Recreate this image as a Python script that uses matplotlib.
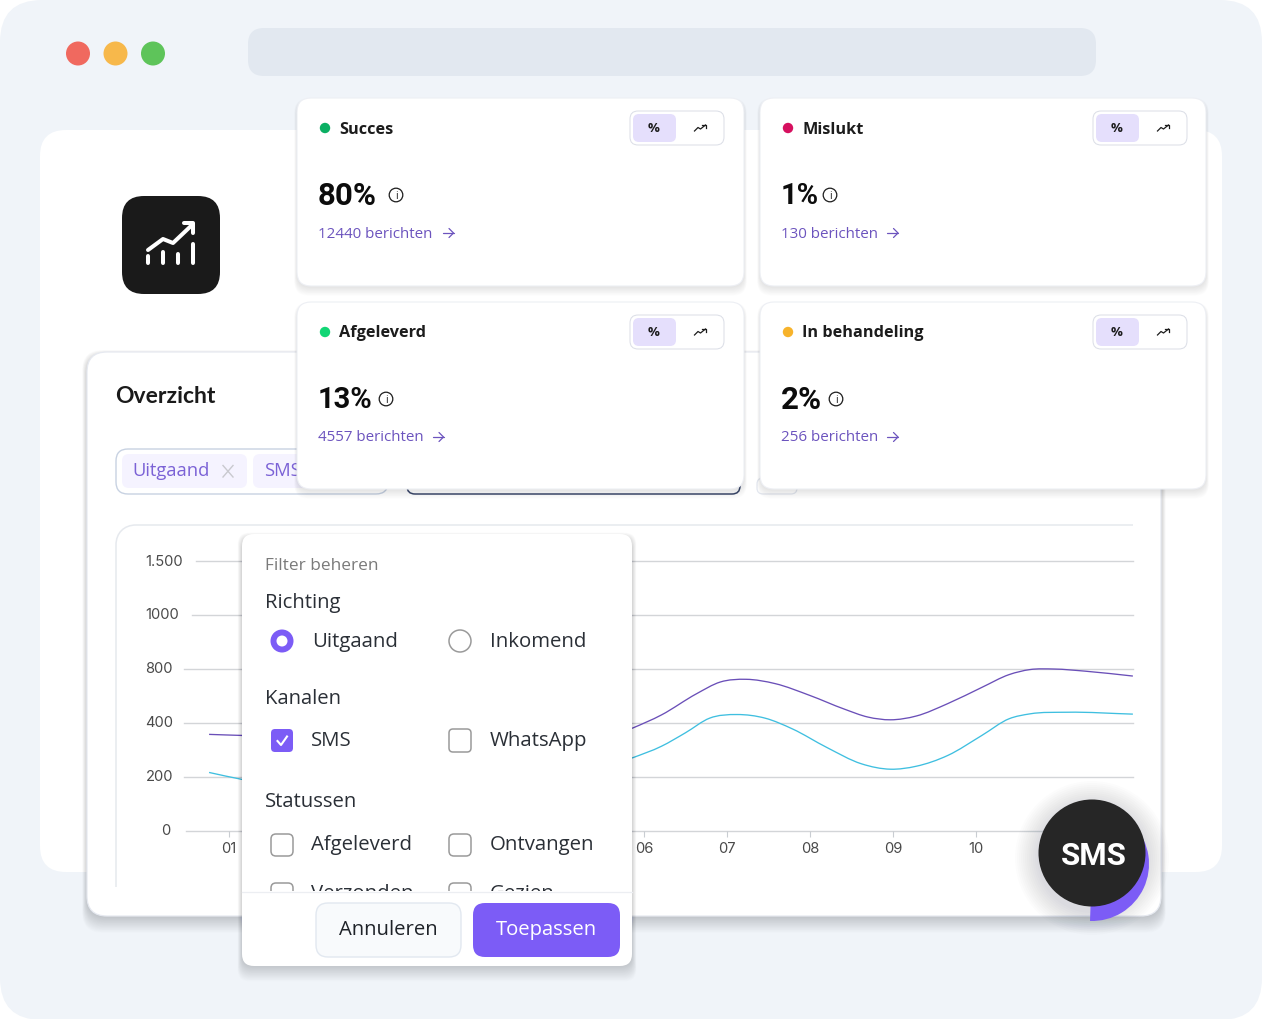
import matplotlib
matplotlib.use('Agg')
import matplotlib.pyplot as plt
import numpy as np
from matplotlib.patches import FancyBboxPatch, Circle, Wedge, PathPatch, Rectangle
from matplotlib.path import Path

W, H = 1262, 1020

# chart data
x_ticks = [1, 2, 3, 4, 5, 6, 7, 8, 9, 10, 11]
# 02-05 sit behind the popup and 11 behind the badge
x_labels = ['01', '', '', '', '', '06', '07', '08', '09', '10', '']
y_ticks = [0, 200, 400, 800, 1000, 1500]
y_labels = ['0', '200', '400', '800', '1000', '1.500']

purple_x = [0.76, 1.16, 5.86, 6.21, 6.63, 6.92, 7.23, 7.58, 8.0, 8.41, 8.70, 8.97, 9.28, 9.66, 10.07, 10.40, 10.65, 10.94, 11.32, 11.89]
purple_y = [356, 352, 379, 456, 612, 700, 720, 688, 600, 500, 440, 420, 448, 540, 660, 755, 792, 796, 780, 744]
cyan_x = [0.76, 1.16, 5.86, 6.21, 6.50, 6.79, 7.12, 7.46, 7.79, 8.2, 8.62, 8.97, 9.28, 9.66, 10.07, 10.40, 10.65, 11.1, 11.89]
cyan_y = [215, 189, 269, 312, 362, 432, 459, 432, 376, 308, 247, 227, 238, 278, 352, 428, 464, 476, 462]

# stat cards
card_titles = ['Succes', 'Mislukt', 'Afgeleverd', 'In behandeling']
card_values = ['80%', '1%', '13%', '2%']
card_links = ['12440 berichten', '130 berichten', '4557 berichten', '256 berichten']
card_dots = ['#0BAF63', '#D6105F', '#12D675', '#F7B32B']

PURPLE = '#7C5CF6'
LINK = '#6C54BE'
BODY = '#2A2F36'
plt.rcParams['font.family'] = ['Open Sans', 'DejaVu Sans']

fig = plt.figure(figsize=(W / 100, H / 100), dpi=100, facecolor='white')


def px_axes(z):
    a = fig.add_axes([0, 0, 1, 1], zorder=z)
    a.set_xlim(0, W)
    a.set_ylim(H - 1, -1)
    a.axis('off')
    a.patch.set_alpha(0)
    return a


def box(a, x0, y0, x1, y1, r, fc='white', ec='none', lw=1.0, z=1, shadow=0):
    if shadow:
        for i in range(shadow, 0, -1):
            a.add_patch(FancyBboxPatch((x0 - i * 0.2, y0 + 4 - i * 0.25), x1 - x0 + i * 0.4, y1 - y0 - 4 + i * 0.95,
                                       boxstyle='round,pad=0,rounding_size=%g' % r,
                                       fc='#1c2a40', ec='none', alpha=0.009, zorder=z))
    p = FancyBboxPatch((x0, y0), x1 - x0, y1 - y0, boxstyle='round,pad=0,rounding_size=%g' % r,
                       fc=fc, ec=ec, lw=lw, zorder=z)
    a.add_patch(p)
    return p


bands = np.arange(len(y_ticks))


def to_band(v):
    return np.interp(v, y_ticks, bands)


def from_band(b):
    return np.interp(b, bands, y_ticks)


def smooth_path(xs, ys):
    # cubic through the read points, tangents taken on the drawn (band) scale
    xs = np.asarray(xs, float)
    ys = np.asarray(ys, float)
    bs = to_band(ys)
    m = np.gradient(bs, xs)
    gap = np.diff(xs).max()
    verts = [(xs[0], ys[0])]
    codes = [Path.MOVETO]
    for i in range(len(xs) - 1):
        dx = xs[i + 1] - xs[i]
        if dx == gap:
            # long stretch behind the popup
            verts.append((xs[i + 1], ys[i + 1]))
            codes.append(Path.LINETO)
            continue
        verts += [(xs[i] + dx / 3, from_band(bs[i] + m[i] * dx / 3)),
                  (xs[i + 1] - dx / 3, from_band(bs[i + 1] - m[i + 1] * dx / 3)),
                  (xs[i + 1], ys[i + 1])]
        codes += [Path.CURVE4] * 3
    return Path(verts, codes)


def arrow(a, x, y, c=LINK, z=6):
    a.plot([x - 5.5, x + 5.5], [y, y], color=c, lw=0.9, zorder=z, solid_capstyle='round')
    a.plot([x + 1, x + 5.5, x + 1], [y - 4.5, y, y + 4.5], color=c, lw=0.9, zorder=z, solid_capstyle='round')


# background layer
bg = px_axes(0)
box(bg, 0, 0, W, H, 42, fc='#F0F4F9')
box(bg, 248, 28, 1096, 76, 16, fc='#E2E8F0', z=2)
for cx, col in zip([78, 115.5, 153], ['#F0695F', '#F7B84B', '#5EC45A']):
    bg.add_patch(Circle((cx, 53.5), 12, fc=col, ec='none', zorder=2))
box(bg, 40, 130, 1222, 872, 26, fc='white', z=2)

# app icon
box(bg, 122, 196, 220, 294, 22, fc='#1A1A1A', z=3)
bg.plot([148, 163, 173, 192], [250, 239, 243, 225], color='white', lw=2.9, zorder=4, solid_capstyle='round', solid_joinstyle='round')
bg.plot([184, 193, 193], [223, 223, 233], color='white', lw=2.9, zorder=4, solid_capstyle='round', solid_joinstyle='round')
for bx, by in zip([148, 163, 178, 193], [256, 252, 254, 244]):
    bg.plot([bx, bx], [by, 263], color='white', lw=2.9, zorder=4, solid_capstyle='round')

# overview card
box(bg, 87, 352, 1161, 916, 20, fc='white', ec='#E6E9F0', lw=0.9, z=5, shadow=24)
bg.text(115, 396, 'Overzicht', fontsize=16.5, fontweight='bold', color='#1A1A1A', va='center', zorder=6, family='Lato')
box(bg, 116, 449, 388, 494, 12, fc='white', ec='#C8D2E2', lw=1.0, z=6)
box(bg, 122, 454, 247, 488, 7, fc='#F5F3FF', z=7)
box(bg, 253, 454, 330, 488, 7, fc='#F5F3FF', z=7)
bg.text(132, 470, 'Uitgaand', fontsize=13.2, color='#7B62D6', va='center', zorder=8)
bg.plot([223, 233], [465.5, 477], color='#C9C9CF', lw=1, zorder=8)
bg.plot([223, 233], [477, 465.5], color='#C9C9CF', lw=1, zorder=8)
bg.text(264, 470, 'SMS', fontsize=13.2, color='#7B62D6', va='center', zorder=8)
box(bg, 407, 470, 740, 494, 8, fc='white', ec='#3E4A6B', lw=1.1, z=6)
box(bg, 757, 478, 797, 494, 6, fc='white', ec='#E3E7EF', lw=0.9, z=6)

# inner chart frame: only top and left edge show
frame = Path([(116, 887), (116, 545), (116, 533), (124, 525), (136, 525), (1133, 525)],
             [Path.MOVETO, Path.LINETO, Path.CURVE4, Path.CURVE4, Path.CURVE4, Path.LINETO])
bg.add_patch(PathPatch(frame, fc='none', ec='#E6E9EE', lw=1.1, zorder=6))

# chart
left_px, right_px = 184, 1133
top_px, bot_px = 561.5, 831.5
ax = fig.add_axes([left_px / W, 1 - bot_px / H, (right_px - left_px) / W, (bot_px - top_px) / H], zorder=1)
ax.patch.set_alpha(0)
ax.set_yscale('function', functions=(to_band, from_band))
ax.set_ylim(0, 1500)
ax.set_xlim(1 - 45 / 83, 1 + 904 / 83)
for s in ax.spines.values():
    s.set_visible(False)


def px_to_x(p):
    return 1 + (p - 229) / 83


ax.set_yticks(y_ticks)
ax.set_yticklabels([])
ax.tick_params(axis='y', length=0)
ax.minorticks_off()
ax.set_xticks(x_ticks)
ax.set_xticklabels(x_labels, fontsize=10.6, color='#4A4A4A', family='Inter')
ax.tick_params(axis='x', length=4, width=0.8, color='#C9CDD2', pad=3.5)

grid_starts = [186, 184, 184, 184, 192, 196]
label_starts = [161.5, 145.5, 145.5, 145.5, 145.5, 145.5]
for v, lab, gs, ls in zip(y_ticks, y_labels, grid_starts, label_starts):
    ax.plot([px_to_x(gs), px_to_x(right_px)], [v, v], color='#D3D5D8', lw=1.0, clip_on=False, zorder=1)
    ax.text(px_to_x(ls), v, lab, fontsize=10.6, color='#4A4A4A', va='center', ha='left', family='Inter', clip_on=False)

ax.add_patch(PathPatch(smooth_path(purple_x, purple_y), fc='none', ec='#6A4FB8', lw=0.95, zorder=3))
ax.add_patch(PathPatch(smooth_path(cyan_x, cyan_y), fc='none', ec='#3FBFE0', lw=0.95, zorder=3))

# everything lying over the chart
top = px_axes(2)

# stat cards
card_pos = [(297, 98), (760, 98), (297, 302), (760, 302)]
info_x = [396, 830, 386, 836]
link_arrow_x = [448, 892.5, 438, 892.5]
value_sizes = [22.5, 21, 21, 22.5]
for i in range(4):
    x, y = card_pos[i]
    w = 447 if x < 700 else 446
    h = 188 if y < 200 else 187
    box(top, x, y, x + w, y + h, 14, fc='white', ec='#EDEFF4', lw=0.8, z=3, shadow=14)
    top.add_patch(Circle((x + 28, y + 30), 5.2, fc=card_dots[i], ec='none', zorder=6))
    top.text(x + 42, y + 30.5, card_titles[i], fontsize=11.7, fontweight='bold', color='#1C1C1C', va='center', zorder=6)
    # toggle
    tx = 630 if x < 700 else 1093
    box(top, tx, y + 13, tx + 94, y + 47, 8, fc='white', ec='#DADDE6', lw=0.7, z=6)
    box(top, tx + 3, y + 16, tx + 46, y + 44, 6, fc='#E5DFFC', z=7)
    top.text(tx + 24, y + 30, '%', fontsize=9.5, fontweight='bold', color='#1C1C1C', ha='center', va='center', zorder=8)
    ix = tx + 70
    top.plot([ix - 5.5, ix - 2, ix + 0.5, ix + 5.5], [y + 33, y + 29.5, y + 31, y + 27], color='#1C1C1C', lw=0.9, zorder=8)
    top.plot([ix + 2, ix + 5.5, ix + 5.5], [y + 27, y + 27, y + 30], color='#1C1C1C', lw=0.9, zorder=8)
    # value
    top.text(x + 21, y + 97, card_values[i], fontsize=value_sizes[i], fontweight='bold', color='#0C0C0C', va='center', zorder=6, family='Roboto')
    top.add_patch(Circle((info_x[i], y + 97), 6.8, fc='none', ec='#1C1C1C', lw=0.9, zorder=6))
    top.text(info_x[i], y + 97.2, 'i', fontsize=7.5, color='#1C1C1C', ha='center', va='center', zorder=6)
    top.text(x + 21, y + 135, card_links[i], fontsize=10.9, color=LINK, va='center', zorder=6)
    arrow(top, link_arrow_x[i], y + 135)

# filter popup
box(top, 242, 534, 632, 966, 12, fc='white', z=10, shadow=22)
top.text(265, 565, 'Filter beheren', fontsize=12.4, color='#7A7A7A', va='center', zorder=11)
for label, yy in zip(['Richting', 'Kanalen', 'Statussen'], [602, 698, 801]):
    top.text(265, yy, label, fontsize=14.6, color=BODY, va='center', zorder=11)

top.add_patch(Circle((282, 641), 11.5, fc=PURPLE, ec='none', zorder=11))
top.add_patch(Circle((282, 641), 5.5, fc='white', ec='none', zorder=12))
top.add_patch(Circle((460, 641), 11, fc='white', ec='#9A9A9A', lw=1.1, zorder=11))
top.text(312, 641.5, 'Uitgaand', fontsize=14.7, color=BODY, va='center', zorder=11)
top.text(490, 641.5, 'Inkomend', fontsize=14.7, color=BODY, va='center', zorder=11)

box(top, 271, 729, 293, 752, 4, fc=PURPLE, z=11)
top.plot([277.5, 281, 287], [741, 745, 736.5], color='white', lw=1.5, zorder=12)
top.text(311, 740.5, 'SMS', fontsize=14.7, color=BODY, va='center', zorder=11)
box(top, 449, 729, 471, 752, 4, fc='white', ec='#9A9A9A', lw=1.1, z=11)
top.text(490, 740.5, 'WhatsApp', fontsize=14.7, color=BODY, va='center', zorder=11)

box(top, 271, 834, 293, 856, 5, fc='white', ec='#9A9A9A', lw=1.1, z=11)
box(top, 449, 834, 471, 856, 5, fc='white', ec='#9A9A9A', lw=1.1, z=11)
top.text(311, 844.5, 'Afgeleverd', fontsize=14.7, color=BODY, va='center', zorder=11)
top.text(490, 844.5, 'Ontvangen', fontsize=14.7, color=BODY, va='center', zorder=11)

# last row is cut off by the footer
row_clip = Rectangle((242, 860), 390, 31, transform=top.transData)
for bx, label, tx in zip([271, 449], ['Verzonden', 'Gezien'], [311, 490]):
    b = box(top, bx, 883, bx + 22, 905, 5, fc='white', ec='#9A9A9A', lw=1.1, z=11)
    b.set_clip_path(row_clip)
    t = top.text(tx, 893, label, fontsize=14.7, color=BODY, va='center', zorder=11)
    t.set_clip_path(row_clip)
    t.set_clip_on(True)

top.plot([242, 632], [891.5, 891.5], color='#ECEEF2', lw=0.9, zorder=12)
box(top, 316, 903, 461, 957, 12, fc='#F8FAFC', ec='#E2E8F0', lw=1, z=12)
top.text(388.5, 929, 'Annuleren', fontsize=14.6, fontweight='medium', color='#1E2228', ha='center', va='center', zorder=13)
box(top, 473, 903, 620, 957, 12, fc=PURPLE, z=12)
top.text(546.5, 929, 'Toepassen', fontsize=14.6, color='white', ha='center', va='center', zorder=13)

# SMS badge
for i in range(24, 0, -2):
    top.add_patch(Circle((1092, 858), 53 + i, fc='#1c2a40', ec='none', alpha=0.01, zorder=14))
top.add_patch(Wedge((1092, 864), 57, -42, 92, fc=PURPLE, ec='none', zorder=15))
top.add_patch(Circle((1092, 853), 53.5, fc='#262626', ec='none', zorder=16))
top.text(1094, 855, 'SMS', fontsize=22.5, fontweight='bold', color='white', ha='center', va='center', zorder=17, family='Roboto')

fig.savefig('out.png', dpi=100)
